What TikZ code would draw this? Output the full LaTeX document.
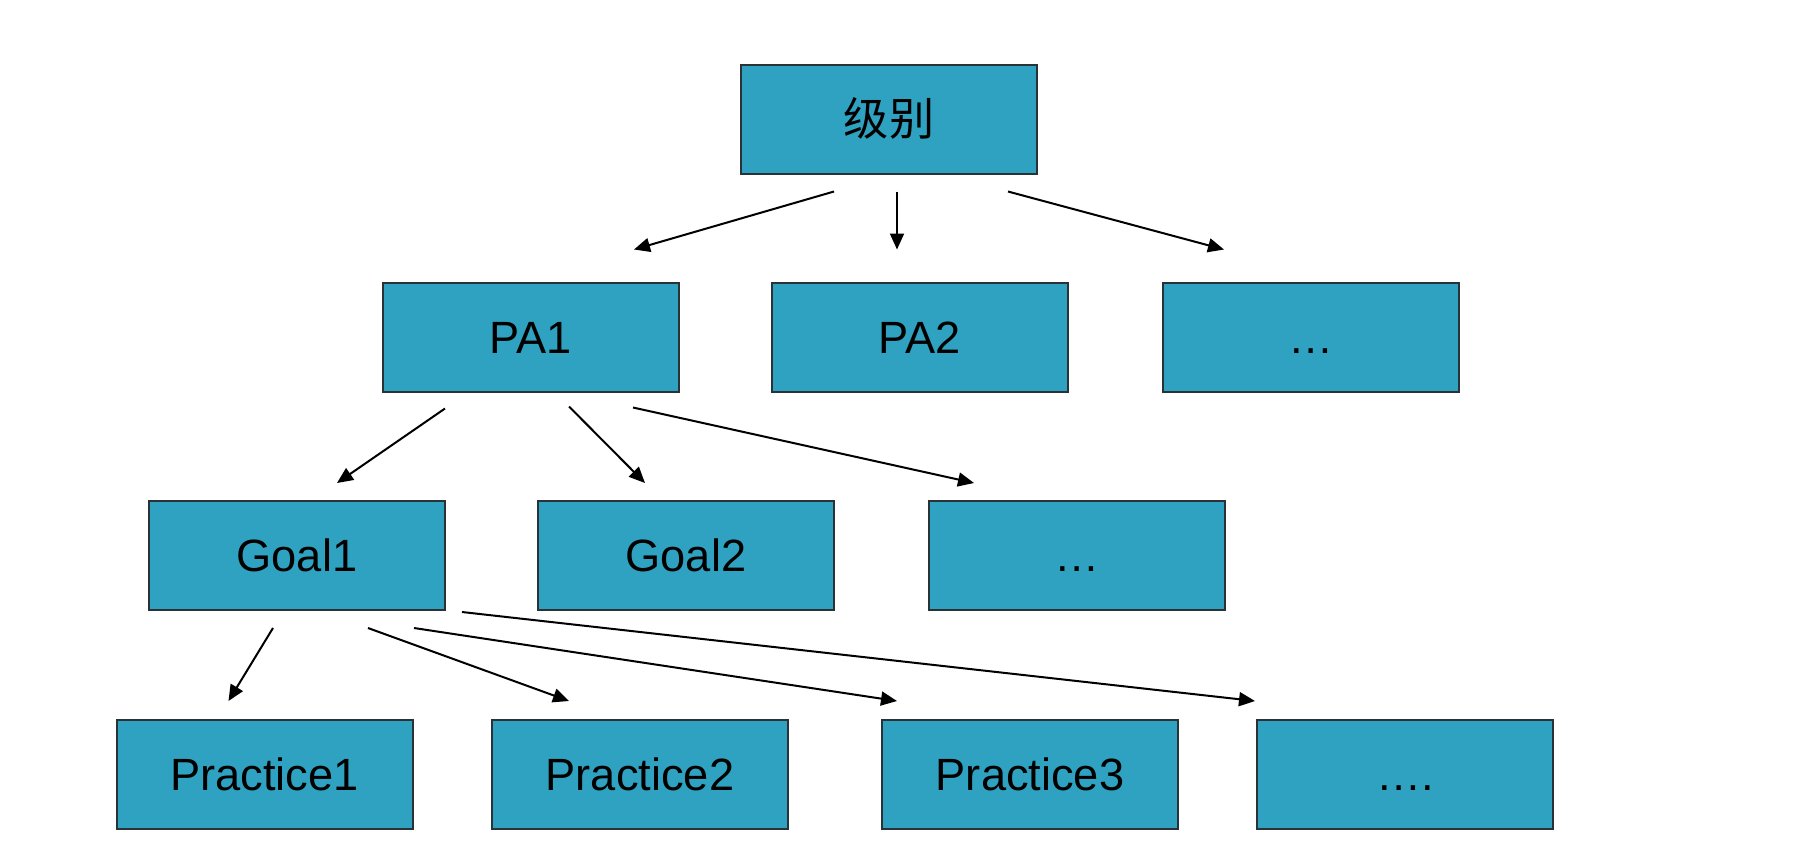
\documentclass[tikz,border=0pt]{standalone}
\usepackage{fontspec}
\setmainfont{Liberation Sans}
\newfontfamily\cjk{Noto Sans CJK SC}
\usetikzlibrary{calc,arrows.meta}
\definecolor{boxfill}{RGB}{46,162,192}
\definecolor{boxline}{RGB}{40,50,55}
\tikzset{
  box/.style={draw=boxline, line width=1pt, fill=boxfill, minimum width=148pt, minimum height=54.5pt, inner sep=0pt, text height=16.2pt, text depth=0pt, font=\fontsize{22.6}{27}\selectfont},
  arr/.style={-{Triangle[length=8pt,width=7pt]}, line width=1pt, black}
}
\begin{document}
\begin{tikzpicture}[x=0.5pt,y=-0.5pt]
\useasboundingbox (0,0) rectangle (1806,864);
\node[box] (top) at (889,119) {\cjk 级别};
\node[box] (pa1) at (531,337) {PA1};
\node[box] (pa2) at (920,337) {PA2};
\node[box] (d1) at (1311,337) {…};
\node[box] (g1) at (297,555.5) {Goal1};
\node[box] (g2) at (686,555.5) {Goal2};
\node[box] (d2) at (1077,555.5) {…};
\node[box] (p1) at (264.5,774.5) {Practice1};
\node[box] (p2) at (640,774.5) {Practice2};
\node[box] (p3) at (1030,774.5) {Practice3};
\node[box] (p4) at (1405,774.5) {….};
\draw[arr] ($(top.south)+(-55,17)$) -- ($(pa1.north)+(103,-32)$);
\draw[arr] ($(top.south)+(8,17)$) -- ($(pa2.north)+(-23,-32)$);
\draw[arr] ($(top.south)+(119,17)$) -- ($(d1.north)+(-87,-32)$);
\draw[arr] ($(pa1.south)+(-86,16)$) -- ($(g1.north)+(40,-17)$);
\draw[arr] ($(pa1.south)+(38,14)$) -- ($(g2.north)+(-41,-17)$);
\draw[arr] ($(pa1.south)+(102,15)$) -- ($(d2.north)+(-103,-17)$);
\draw[arr] ($(g1.south)+(-24,17)$) -- ($(p1.north)+(-36,-18)$);
\draw[arr] ($(g1.south)+(71,17)$) -- ($(p2.north)+(-71,-18)$);
\draw[arr] ($(g1.south)+(117,17)$) -- ($(p3.north)+(-133,-18)$);
\draw[arr] ($(g1.south east)+(16,1)$) -- ($(p4.north)+(-150,-18)$);
\end{tikzpicture}
\end{document}
